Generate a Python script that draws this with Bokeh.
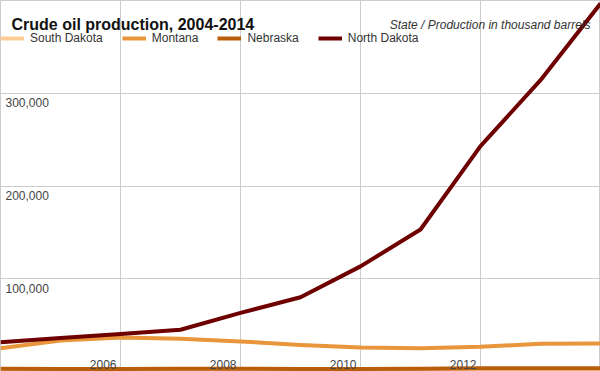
from bokeh.plotting import figure
from bokeh.models import Range1d, FixedTicker, Legend, LegendItem, Label, ColumnDataSource
from bokeh.core.properties import value
from bokeh.embed import file_html
from bokeh.resources import INLINE

# ---- data (thousand barrels) ----
years = [2004, 2005, 2006, 2007, 2008, 2009, 2010, 2011, 2012, 2013, 2014]
south_dakota = [1331, 1258, 1385, 1615, 1786, 1655, 1562, 1634, 1734, 1837, 2077]
montana = [24697, 32972, 36260, 34853, 31958, 28071, 25480, 24560, 26201, 29377, 29859]
nebraska = [2363, 2244, 2288, 2331, 2335, 2291, 2256, 2466, 2889, 2842, 2948]
north_dakota = [31111, 35654, 39887, 44543, 62776, 79737, 113083, 152964, 243156, 314365, 397218]

series_names = ["South Dakota", "Montana", "Nebraska", "North Dakota"]
series_colors = ["#fdcb96", "#e8953b", "#b85e0b", "#6e0000"]

x_ticks = [2006, 2008, 2010, 2012]
x_tick_labels = ["2006", "2008", "2010", "2012"]
y_ticks = [100000, 200000, 300000, 400000]
y_tick_labels = ["100,000", "200,000", "300,000", ""]

title_text = "Crude oil production, 2004-2014"
subtitle_text = "State / Production in thousand barrels"

FONT = "Liberation Sans"
W, H = 600, 371
Y0, Y1 = -540, 400540

p = figure(width=W, height=H, output_backend="svg", toolbar_location=None,
           x_range=Range1d(2004, 2014), y_range=Range1d(Y0, Y1),
           min_border=0, min_border_left=0, min_border_right=0,
           min_border_top=0, min_border_bottom=0)
p.xaxis.visible = False
p.yaxis.visible = False
p.xgrid.ticker = FixedTicker(ticks=x_ticks)
p.ygrid.ticker = FixedTicker(ticks=y_ticks)
for g in (p.xgrid, p.ygrid):
    g.grid_line_color = "#cccccc"
    g.grid_line_width = 1
p.outline_line_color = "#cccccc"
p.background_fill_color = "white"
p.border_fill_color = "white"

renderers = []
for name, vals, col in zip(series_names, [south_dakota, montana, nebraska, north_dakota], series_colors):
    r = p.line(years, vals, line_color=col, line_width=4, line_join="round")
    renderers.append(r)

# tick labels drawn inside the plot
ysrc = ColumnDataSource(dict(x=[2004] * len(y_ticks), y=y_ticks, t=y_tick_labels))
p.text(x="x", y="y", text="t", source=ysrc, x_offset=5, y_offset=5,
       text_font=value(FONT), text_font_size="12px", text_color="#444444",
       text_align="left", text_baseline="top")
xsrc = ColumnDataSource(dict(x=x_ticks, y=[Y0] * len(x_ticks), t=x_tick_labels))
p.text(x="x", y="y", text="t", source=xsrc, x_offset=-4, y_offset=-7,
       text_font=value(FONT), text_font_size="12px", text_color="#444444",
       text_align="right", text_baseline="alphabetic")

legend = Legend(items=[LegendItem(label=n, renderers=[r]) for n, r in zip(series_names, renderers)],
                orientation="horizontal", location=(0, H - 30 - 16),
                label_text_font=FONT, label_text_font_size="12px", label_text_color="#333333",
                glyph_width=24, glyph_height=16, label_height=16, label_standoff=6,
                spacing=19, padding=0, margin=0,
                background_fill_alpha=0, border_line_alpha=0)
p.add_layout(legend)

p.add_layout(Label(x=11, y=H - 24, x_units="screen", y_units="screen", text=title_text,
                   text_font=FONT, text_font_size="16px", text_font_style="bold",
                   text_color="#111111", text_baseline="alphabetic"))
p.add_layout(Label(x=590, y=H - 24, x_units="screen", y_units="screen", text=subtitle_text,
                   text_font=FONT, text_font_size="12px", text_font_style="italic",
                   text_color="#333333", text_align="right", text_baseline="alphabetic"))

open("out.html", "w").write(file_html(p, INLINE))
